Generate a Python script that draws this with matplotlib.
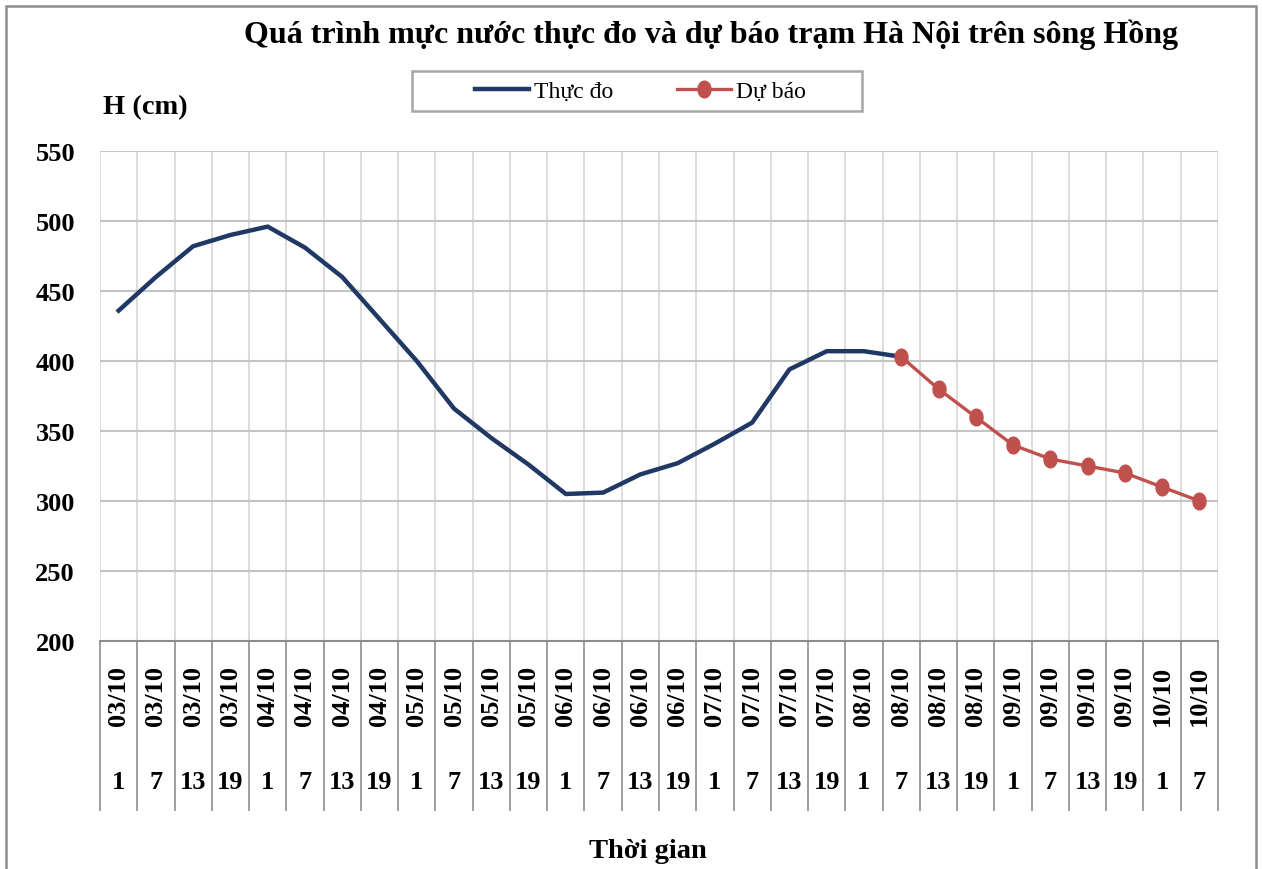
import numpy as np
import matplotlib
matplotlib.use("Agg")
import matplotlib.pyplot as plt
from matplotlib.path import Path
from matplotlib.lines import Line2D
from matplotlib.patches import Rectangle
from matplotlib.transforms import blended_transform_factory

plt.rcParams['font.family'] = ['Liberation Serif', 'DejaVu Serif']

# du lieu
dates = ["03/10"] * 4 + ["04/10"] * 4 + ["05/10"] * 4 + ["06/10"] * 4 + \
        ["07/10"] * 4 + ["08/10"] * 4 + ["09/10"] * 4 + ["10/10"] * 2
hours = [1, 7, 13, 19] * 7 + [1, 7]
thuc_do = [436, 460, 482, 490, 496, 481, 460, 430, 400, 366, 345, 326,
           305, 306, 319, 327, 341, 356, 394, 407, 407, 403]
du_bao = [403, 380, 360, 340, 330, 325, 320, 310, 300]
y_ticks = [200, 250, 300, 350, 400, 450, 500, 550]

W, H = 1262, 870
fig = plt.figure(figsize=(W / 100, H / 100), dpi=100)
ax = fig.add_axes([100 / W, 1 - 642 / H, 1118 / W, 490 / H])

n = len(dates)
x_do = np.arange(len(thuc_do))
x_bao = np.arange(len(thuc_do) - 1, len(thuc_do) - 1 + len(du_bao))

# marker hinh elip (hoi det ngang)
t = np.linspace(0, 2 * np.pi, 60)
ellipse = Path(np.column_stack([0.78 * np.cos(t), np.sin(t)]), closed=True)

ax.plot(x_do, thuc_do, color='#1F3864', lw=3.2, zorder=3)
ax.plot(x_bao, du_bao, color='#C0504D', lw=2.4, marker=ellipse, markersize=12,
        zorder=4)

ax.set_xlim(-0.5, n - 0.5)
ax.set_ylim(200, 550)
ax.set_yticks(y_ticks)
ax.set_yticklabels([str(v) for v in y_ticks], fontsize=19, fontweight='bold')
ax.tick_params(axis='y', length=0, pad=18)

bounds = np.arange(n + 1) - 0.5
ax.set_xticks(bounds)
ax.set_xticklabels([])
ax.tick_params(axis='x', length=170 * 0.72, width=1.2, color='#8C8C8C',
               direction='out')

for b in bounds:
    ax.axvline(b, color='#D9D9D9', lw=1.3, zorder=1)
for v in y_ticks[1:]:
    ax.axhline(v, color='#C4C4C4', lw=1.5, zorder=1)

for s in ['top', 'left', 'right']:
    ax.spines[s].set_visible(False)
ax.spines['bottom'].set_color('#8C8C8C')
ax.spines['bottom'].set_linewidth(1.5)

tr = blended_transform_factory(ax.transData, fig.transFigure)
for i in range(n):
    ax.text(i, 1 - 696 / H, dates[i], transform=tr, rotation=90, ha='center',
            va='center', fontsize=19, fontweight='bold')
    ax.text(i, 1 - 783 / H, str(hours[i]), transform=tr, ha='center',
            va='center', fontsize=19, fontweight='bold')

fig.text(711 / W, 1 - 35 / H,
         "Quá trình mực nước thực đo và dự báo trạm Hà Nội trên sông Hồng",
         ha='center', va='center', fontsize=23, fontweight='bold')
fig.text(103 / W, 1 - 108 / H, "H (cm)", ha='left', va='center',
         fontsize=20.5, fontweight='bold')
fig.text(648 / W, 1 - 852 / H, "Thời gian", ha='center', va='center',
         fontsize=20.5, fontweight='bold')

# khung legend
fig.patches.append(Rectangle((412 / W, 1 - 112 / H), 450 / W, 40 / H,
                             transform=fig.transFigure, fill=False,
                             edgecolor='#A6A6A6', lw=1.8))
handles = [Line2D([], [], color='#1F3864', lw=3.2),
           Line2D([], [], color='#C0504D', lw=2.4, marker=ellipse, markersize=12)]
fig.legend(handles, ["Thực đo", "Dự báo"], loc='center',
           bbox_to_anchor=(640 / W, 1 - 92 / H), ncol=2, frameon=False,
           fontsize=17, handlelength=2.3, handletextpad=0.2,
           columnspacing=2.7)

# vien ngoai
fig.patches.append(Rectangle((6 / W, -0.02), 1250 / W, 1 - 7 / H + 0.02,
                             transform=fig.transFigure, fill=False,
                             edgecolor='#8C8C8C', lw=1.8))

fig.savefig("out.png", dpi=100)
